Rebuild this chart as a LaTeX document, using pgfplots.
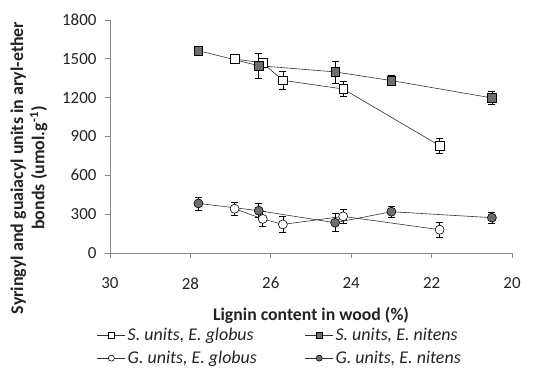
\documentclass[border=0pt]{standalone}
\usepackage{pgfplots}
\pgfplotsset{compat=1.18}
\usetikzlibrary{calc}
\usepackage{fontspec}
\setmainfont{Carlito}
\definecolor{axgray}{RGB}{134,134,134}
\definecolor{fillgray}{RGB}{110,110,110}
\definecolor{txt}{RGB}{35,35,35}
\definecolor{ln}{RGB}{50,50,50}

\pgfplotstableread{
x y e
26.9 1499 20
26.2 1468 25
25.7 1334 70
24.2 1267 60
21.8 829 60
}\Sglob
\pgfplotstableread{
x y e
27.8 1563 15
26.3 1447 95
24.4 1399 85
23.0 1332 40
20.5 1198 50
}\Snit
\pgfplotstableread{
x y e
26.9 342 50
26.2 263 60
25.7 221 60
24.2 283 55
21.8 180 60
}\Gglob
\pgfplotstableread{
x y e
27.8 383 50
26.3 327 55
24.4 234 70
23.0 319 45
20.5 273 45
}\Gnit

\begin{document}
\begin{tikzpicture}
\begin{axis}[
 name=ax,
 scale only axis,
 width=402bp, height=233bp,
 xmin=20, xmax=30, x dir=reverse,
 ymin=0, ymax=1800,
 xtick={20,22,...,30}, ytick={0,300,...,1800},
 axis x line*=bottom, axis y line*=left,
 axis line style={axgray, line width=0.8pt, -},
 tick style={axgray, line width=0.8pt},
 tick align=outside, major tick length=5bp,
 /pgf/number format/assume math mode=true,
 /pgf/number format/1000 sep={},
 ticklabel style={font=\fontsize{17}{19}\selectfont, text=txt},
 xticklabel style={yshift=-16bp},
 yticklabel style={xshift=-5bp},
 legend style={at={(axis description cs:-0.04,-0.305)}, anchor=north west, draw=none, fill=none,
   font=\itshape\fontsize{18}{20}\selectfont, text=txt, row sep=5bp,
   /tikz/every even column/.append style={column sep=46bp}},
 legend columns=2,
 legend cell align=left,
 legend image code/.code={\draw[mark repeat=2,mark phase=2,#1, mark size=3bp] plot coordinates {(0bp,0bp) (14bp,0bp) (28bp,0bp)};},
 error bars/error bar style={black, line width=0.6pt},
 error bars/error mark options={black, line width=0.6pt, mark size=3.5bp, rotate=90},
]
\addplot[color=ln, line width=0.6pt, mark=square*, mark size=4.3bp, mark options={fill=white, draw=black, line width=0.6pt},
  error bars/.cd, y dir=both, y explicit] table[x=x, y=y, y error=e] {\Sglob};
\addlegendentry{S. units, E. globus}
\addplot[color=ln, line width=0.6pt, mark=square*, mark size=4.3bp, mark options={fill=fillgray, draw=black, line width=0.6pt},
  error bars/.cd, y dir=both, y explicit] table[x=x, y=y, y error=e] {\Snit};
\addlegendentry{S. units, E. nitens}
\addplot[color=ln, line width=0.6pt, mark=*, mark size=4.5bp, mark options={fill=white, draw=black, line width=0.6pt},
  error bars/.cd, y dir=both, y explicit] table[x=x, y=y, y error=e] {\Gglob};
\addlegendentry{G. units, E. globus}
\addplot[color=ln, line width=0.6pt, mark=*, mark size=4.5bp, mark options={fill=fillgray, draw=black, line width=0.6pt},
  error bars/.cd, y dir=both, y explicit] table[x=x, y=y, y error=e] {\Gnit};
\addlegendentry{G. units, E. nitens}
\end{axis}
\node[font=\bfseries\fontsize{17.8}{20}\selectfont, text=txt, anchor=center] at ($(ax.south west)+(201bp,-62bp)$) {Lignin content in wood (\%)};
\node[font=\bfseries\fontsize{18}{21.5}\selectfont, text=txt, align=center, rotate=90, anchor=center] at ($(ax.south west)+(-81bp,85bp)$) {Syringyl and guaiacyl units in aryl-ether\\bonds (umol.g\textsuperscript{-1})};
\path (ax.south west) ++(-110bp,-126bp) rectangle ++(533bp,379bp);
\end{tikzpicture}
\end{document}
